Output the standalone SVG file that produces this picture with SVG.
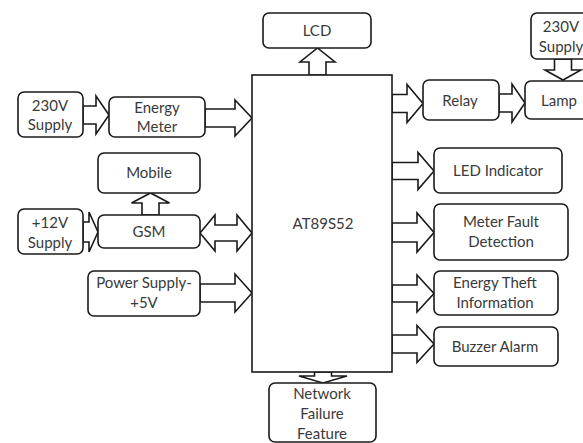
<svg xmlns="http://www.w3.org/2000/svg" width="583" height="443" viewBox="0 0 583 443">
<style>
.b{fill:#fff;stroke:#1a1a1a;stroke-width:1.6}
.a{fill:#fff;stroke:#1a1a1a;stroke-width:1.6;stroke-linejoin:miter}
text{font-family:Lato,"Liberation Sans",sans-serif;font-size:15px;fill:#3a3a3a;text-anchor:middle}
</style>
<rect width="583" height="443" fill="#fff"/>
<g id="connectors">
<polygon class="a" points="83,106 96,106 96,96 109,115 96,134 96,124 83,124"/>
<polygon class="a" points="205,109 235,109 235,100 252,118 235,136 235,127 205,127"/>
<polygon class="a" points="83,222 89,222 89,212 98,232 89,252 89,242 83,242"/>
<polygon class="a" points="200,233 215,215 215,225 237,225 237,215 252,233 237,251 237,241 215,241 215,251"/>
<polygon class="a" points="200,284 235,284 235,274 252,293 235,312 235,302 200,302"/>
<polygon class="a" points="142,215 142,203 131.5,203 150.5,193 169.5,203 159,203 159,215"/>
<polygon class="a" points="309,75 309,62 300,62 317.5,48 335,62 326,62 326,75"/>
<polygon class="a" points="314.5,372 314.5,376 299,376 323,383 347,376 331.5,376 331.5,372"/>
<polygon class="a" points="392,94.5 407,94.5 407,84.5 423,103.5 407,122.5 407,112.5 392,112.5"/>
<polygon class="a" points="499,94 512,94 512,84 525,103 512,122 512,112 499,112"/>
<polygon class="a" points="554.5,59 554.5,70 545,70 563,80 581,70 571.5,70 571.5,59"/>
<polygon class="a" points="392,162.5 418,162.5 418,152.5 434,171 418,189.5 418,179.5 392,179.5"/>
<polygon class="a" points="392,223 417,223 417,213 434,232.5 417,252 417,242 392,242"/>
<polygon class="a" points="392,285 417,285 417,275 434,293.5 417,312 417,302 392,302"/>
<polygon class="a" points="392,335 417,335 417,325.5 434,344 417,362.5 417,353 392,353"/>
</g>
<g id="lcd"><rect class="b" x="263" y="13" width="108" height="35" rx="6"/><text x="317" y="36">LCD</text></g>
<g id="mcu"><rect class="b" x="252" y="75" width="140" height="297"/><text x="323" y="229">AT89S52</text></g>
<g id="supply230-left"><rect class="b" x="18" y="92" width="65" height="45" rx="6"/><text x="50" y="111">230V</text><text x="50" y="130">Supply</text></g>
<g id="energy-meter"><rect class="b" x="109" y="97" width="96" height="40" rx="6"/><text x="157" y="113">Energy</text><text x="157" y="132">Meter</text></g>
<g id="mobile"><rect class="b" x="98" y="153" width="102" height="40" rx="6"/><text x="149" y="178">Mobile</text></g>
<g id="supply12"><rect class="b" x="18" y="209" width="65" height="45" rx="6"/><text x="50" y="228">+12V</text><text x="50" y="248">Supply</text></g>
<g id="gsm"><rect class="b" x="98" y="215" width="102" height="33" rx="6"/><text x="149" y="237">GSM</text></g>
<g id="power-supply"><rect class="b" x="88" y="271" width="112" height="45" rx="6"/><text x="144" y="288">Power Supply-</text><text x="144" y="308">+5V</text></g>
<g id="network"><rect class="b" x="269" y="383" width="107" height="59" rx="6"/><text x="322" y="399">Network</text><text x="322" y="419">Failure</text><text x="322" y="439">Feature</text></g>
<g id="relay"><rect class="b" x="423" y="80" width="76" height="40" rx="6"/><text x="460" y="106">Relay</text></g>
<g id="lamp"><rect class="b" x="525" y="81" width="70" height="38" rx="6"/><text x="559" y="106">Lamp</text></g>
<g id="supply230-right"><rect class="b" x="531" y="13" width="62" height="46" rx="6"/><text x="561" y="32">230V</text><text x="561" y="52">Supply</text></g>
<g id="led"><rect class="b" x="434" y="148" width="128" height="45" rx="6"/><text x="498" y="176">LED Indicator</text></g>
<g id="meter-fault"><rect class="b" x="434" y="204" width="134" height="56" rx="6"/><text x="501" y="227">Meter Fault</text><text x="501" y="247">Detection</text></g>
<g id="energy-theft"><rect class="b" x="434" y="271" width="124" height="44" rx="6"/><text x="495" y="288">Energy Theft</text><text x="495" y="308">Information</text></g>
<g id="buzzer"><rect class="b" x="434" y="327" width="124" height="39" rx="6"/><text x="495" y="352">Buzzer Alarm</text></g>
</svg>
